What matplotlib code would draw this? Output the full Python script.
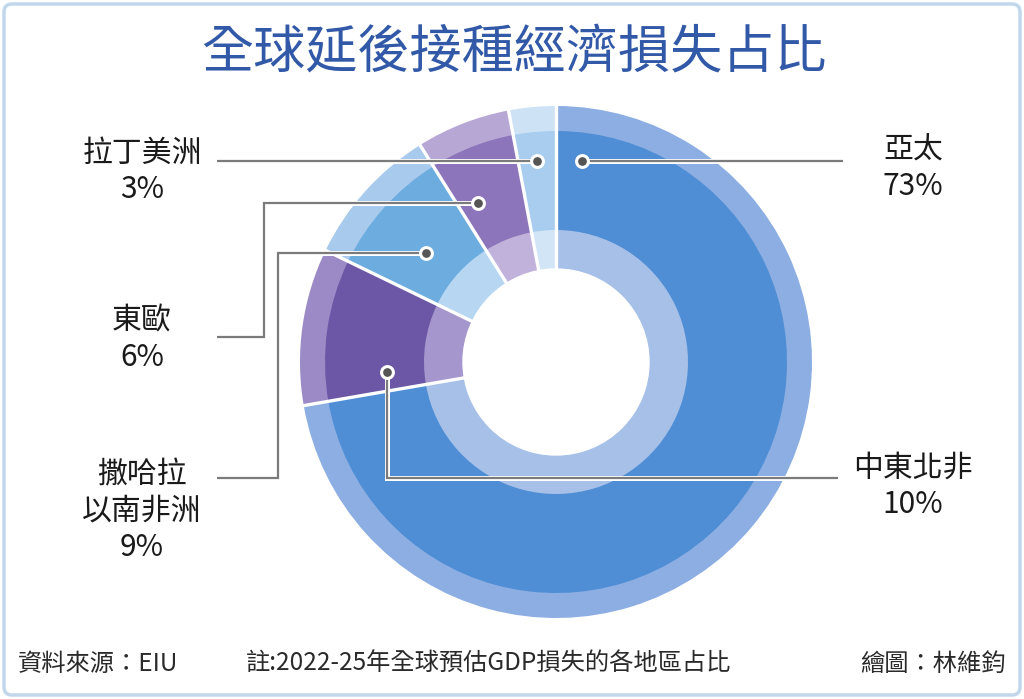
import matplotlib.pyplot as plt
import numpy as np
from matplotlib.patches import FancyBboxPatch
import matplotlib.patheffects as pe

plt.rcParams['font.family'] = ['Noto Sans CJK TC', 'DejaVu Sans']

# data (clockwise from 12 o'clock)
regions = ['亞太', '中東北非', '撒哈拉\n以南非洲', '東歐', '拉丁美洲']
shares = [73, 10, 9, 6, 3]

# three shades per region: outer rim, main band, inner band
rim_colors = ['#8caee2', '#9b8ac6', '#a8caed', '#b6a7d4', '#cee2f6']
main_colors = ['#4f8ed5', '#6c57a6', '#6cacdf', '#8d75bb', '#a9cdef']
inner_colors = ['#a6c0e8', '#a596cd', '#b7d6f1', '#c0b2da', '#d2e5f7']

W, H = 1024, 699
fig = plt.figure(figsize=(W / 100, H / 100), dpi=100)
ax = fig.add_axes([0, 0, 1, 1])

cx, cy = 556, H - 362
r_out, r_main, r_in, r_hole = 256, 231, 132, 93

kw = dict(startangle=90, counterclock=False, center=(cx, cy),
          wedgeprops=dict(linewidth=0))
wedges, _ = ax.pie(shares, radius=r_out, colors=rim_colors, **kw)
ax.pie(shares, radius=r_main, colors=main_colors, **kw)
ax.pie(shares, radius=r_in, colors=inner_colors, **kw)
ax.add_patch(plt.Circle((cx, cy), r_hole, color='white', zorder=3))

# white separators between regions
for w in wedges:
    a = np.deg2rad(w.theta2)
    ax.plot([cx + (r_hole - 2) * np.cos(a), cx + (r_out + 3) * np.cos(a)],
            [cy + (r_hole - 2) * np.sin(a), cy + (r_out + 3) * np.sin(a)],
            color='white', lw=2.4, zorder=4, solid_capstyle='butt')

ax.set_xlim(0, W)
ax.set_ylim(0, H)
ax.set_aspect('equal')
ax.axis('off')

# callout layout: position inside wedge (fraction, radius), label position
dot_frac = [0.972, 0.82, 0.56, 0.72, 0.505]
dot_rad = [203, 169, 170, 177, 202]
label_xy = [(913, H - 168), (913, H - 486), (142, H - 511), (142, H - 339), (142, H - 171)]
line_gray = '#7b7b7b'
halo = [pe.Stroke(linewidth=3.6, foreground='white'), pe.Normal()]

dots = []
for w, f, r in zip(wedges, dot_frac, dot_rad):
    a = np.deg2rad(w.theta1 + f * (w.theta2 - w.theta1))
    dots.append((cx + r * np.cos(a), cy + r * np.sin(a)))

lkw = dict(color=line_gray, lw=1.6, zorder=6, path_effects=halo,
           solid_joinstyle='miter', solid_capstyle='butt')
# 亞太: straight to right
dx, dy = dots[0]
ax.plot([dx, 843], [dy, dy], **lkw)
# 中東北非: down then right
dx, dy = dots[1]
ax.plot([dx, dx, 838], [dy, H - 478, H - 478], **lkw)
# 撒哈拉以南非洲: elbow
dx, dy = dots[2]
ax.plot([217, 278, 278, dx], [H - 478, H - 478, dy, dy], **lkw)
# 東歐: elbow
dx, dy = dots[3]
ax.plot([217, 264, 264, dx], [H - 337, H - 337, dy, dy], **lkw)
# 拉丁美洲: straight to left
dx, dy = dots[4]
ax.plot([217, dx], [dy, dy], **lkw)

for (dx, dy) in dots:
    ax.plot(dx, dy, 'o', ms=8.5, mfc='#555555', mec='white', mew=2.2, zorder=7)

for name, val, (lx, ly) in zip(regions, shares, label_xy):
    ax.text(lx, ly, f'{name}\n{val}%', ha='center', va='center',
            multialignment='center', fontsize=21.5, color='#1a1a1a',
            linespacing=1.22, zorder=8)

# title
ax.text(W / 2 + 2, H - 53, '全球延後接種經濟損失占比', ha='center', va='center',
        fontsize=37.5, color='#3159a8', fontweight='medium')

# footer
fkw = dict(va='center', fontsize=17.5, color='#2a2a2a')
ax.text(18, H - 664, '資料來源：EIU', ha='left', **fkw)
ax.text(246, H - 664, '註:2022-25年全球預估GDP損失的各地區占比', ha='left', **fkw)
ax.text(1006, H - 664, '繪圖：林維鈞', ha='right', **fkw)

# frame
fig.patches.append(FancyBboxPatch((4, 4), W - 8, H - 8,
                                  boxstyle='round,pad=0,rounding_size=8',
                                  transform=None, fill=False,
                                  edgecolor='#c2d7ec', lw=2.5))

fig.savefig('out.png', dpi=100)
